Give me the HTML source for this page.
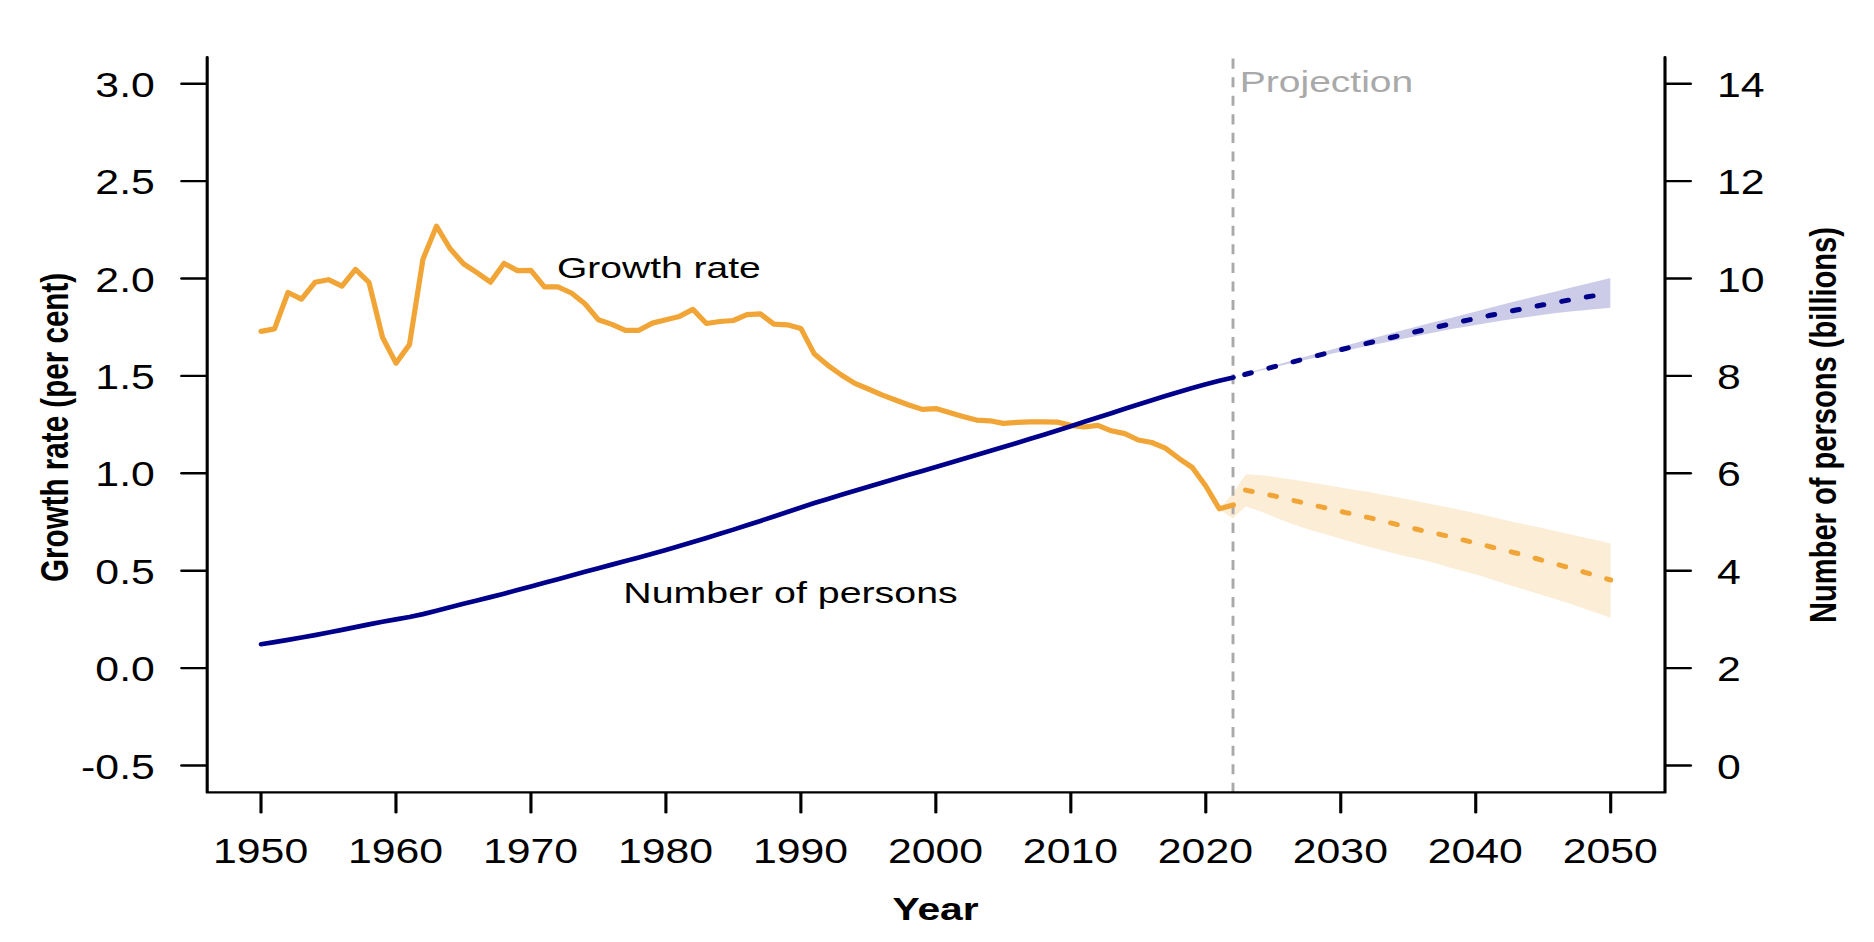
<!DOCTYPE html>
<html lang="en"><head><meta charset="utf-8"><title>World population growth rate and number of persons</title>
<style>html,body{margin:0;padding:0;background:#fff;}body{width:1874px;height:942px;overflow:hidden;}svg{display:block;}</style>
</head><body>
<svg width="1874" height="942" viewBox="0 0 1874 942">
<rect width="1874" height="942" fill="#ffffff"/>
<g fill="none">
<polygon points="1219.29,509.40 1232.78,492.90 1246.00,474.20 1263.40,475.40 1286.70,478.70 1310.10,482.30 1333.40,486.30 1356.80,490.20 1368.40,491.70 1380.10,494.20 1403.50,498.60 1426.80,503.30 1449.70,507.80 1479.40,514.00 1509.20,521.00 1518.10,523.00 1538.90,527.20 1568.60,533.90 1598.30,540.60 1610.60,543.60 1610.60,617.70 1598.30,613.40 1568.60,603.20 1538.90,594.00 1509.20,585.00 1479.40,575.60 1449.70,567.60 1434.90,563.00 1420.00,559.30 1403.50,555.70 1380.10,549.80 1356.80,543.40 1333.40,536.60 1310.10,530.00 1286.70,521.90 1263.40,512.60 1246.00,506.40 1232.78,518.40" fill="#F1A536" fill-opacity="0.2"/>
<polygon points="1232.78,377.12 1246.28,373.44 1259.78,369.56 1273.28,365.74 1286.77,361.95 1300.27,358.11 1313.77,354.33 1327.26,350.65 1340.76,346.95 1354.26,343.28 1367.75,339.60 1381.25,335.90 1394.75,332.33 1408.24,328.72 1421.74,325.25 1435.24,321.82 1448.74,318.44 1462.23,314.94 1475.73,311.45 1489.23,307.95 1502.72,304.56 1516.22,301.12 1529.72,297.72 1543.21,294.41 1556.71,291.15 1570.21,287.74 1583.71,284.44 1597.20,281.18 1610.30,278.07 1610.30,307.87 1597.20,309.01 1583.71,310.29 1570.21,311.62 1556.71,313.04 1543.21,314.81 1529.72,316.64 1516.22,318.56 1502.72,320.55 1489.23,322.68 1475.73,324.91 1462.23,327.14 1448.74,329.56 1435.24,332.21 1421.74,334.90 1408.24,337.64 1394.75,340.45 1381.25,343.19 1367.75,346.00 1354.26,348.83 1340.76,351.77 1327.26,354.78 1313.77,357.90 1300.27,361.03 1286.77,364.18 1273.28,367.40 1259.78,370.67 1246.28,373.99 1232.78,377.12" fill="#00008B" fill-opacity="0.2"/>
<line x1="1233.0" y1="792.9" x2="1233.0" y2="56.30" stroke="#A9A9A9" stroke-width="2.9" stroke-dasharray="10.1 8.47"/>
<polyline points="261.00,331.40 274.50,328.90 287.99,292.50 301.49,299.20 314.99,282.30 328.49,279.70 341.98,286.20 355.48,269.40 368.98,282.30 382.47,337.20 395.97,363.10 409.47,344.60 422.96,259.20 436.46,226.20 449.96,248.50 463.45,263.80 476.95,272.60 490.45,282.20 503.95,263.40 517.44,270.60 530.94,270.40 544.44,286.90 557.93,286.90 571.43,293.00 584.93,303.70 598.42,319.70 611.92,324.40 625.42,330.30 638.92,330.30 652.41,323.10 665.91,319.80 679.41,316.40 692.90,309.40 706.40,323.50 719.90,321.50 733.39,320.50 746.89,314.60 760.39,313.90 773.89,324.10 787.38,324.80 800.88,328.40 814.38,354.10 827.87,365.30 841.37,375.00 854.87,383.40 868.37,389.00 881.86,394.90 895.36,400.00 908.86,405.00 922.35,409.40 935.85,408.60 949.35,412.40 962.84,416.50 976.34,420.10 989.84,420.80 1003.34,423.40 1016.83,422.40 1030.33,421.90 1043.83,421.90 1057.32,422.10 1070.82,425.30 1084.32,427.00 1097.81,425.30 1111.31,430.80 1124.81,433.60 1138.30,440.00 1151.80,442.50 1165.30,448.10 1178.80,458.30 1192.29,467.50 1205.79,486.00 1219.29,508.80 1233.38,504.90" stroke="#F1A536" stroke-width="5.2" stroke-linejoin="round" stroke-linecap="round"/>
<polyline points="1245.48,490.10 1274.00,495.90 1297.50,501.40 1321.20,506.90 1345.70,512.60 1370.00,517.90 1394.50,523.90 1418.90,529.80 1443.30,535.10 1467.80,541.10 1492.20,547.20 1516.60,553.20 1540.00,559.60 1563.30,566.10 1586.70,572.90 1610.70,580.00" stroke="#F1A536" stroke-width="5.0" stroke-linecap="round" stroke-dasharray="6.9 17.897"/>
<polyline points="261.00,644.20 274.50,642.11 287.99,639.88 301.49,637.50 314.99,635.07 328.49,632.45 341.98,629.83 355.48,627.16 368.98,624.34 382.47,621.71 395.97,619.32 409.47,616.94 422.96,614.11 436.46,610.75 449.96,607.25 463.45,603.84 476.95,600.48 490.45,597.12 503.95,593.66 517.44,590.06 530.94,586.40 544.44,582.75 557.93,579.15 571.43,575.45 584.93,571.79 598.42,568.19 611.92,564.63 625.42,561.08 638.92,557.48 652.41,553.77 665.91,549.93 679.41,546.03 692.90,541.99 706.40,537.90 719.90,533.81 733.39,529.62 746.89,525.28 760.39,520.90 773.89,516.42 787.38,511.99 800.88,507.46 814.38,503.08 827.87,498.89 841.37,494.75 854.87,490.71 868.37,486.67 881.86,482.67 895.36,478.73 908.86,474.78 922.35,470.89 935.85,466.94 949.35,462.95 962.84,458.96 976.34,455.01 989.84,451.02 1003.34,446.98 1016.83,442.93 1030.33,438.84 1043.83,434.65 1057.32,430.42 1070.82,426.18 1084.32,421.86 1097.81,417.54 1111.31,413.17 1124.81,408.81 1138.30,404.54 1151.80,400.27 1165.30,396.05 1178.80,391.92 1192.29,387.94 1205.79,384.21 1219.29,380.82 1233.38,377.42" stroke="#00008B" stroke-width="4.7" stroke-linejoin="round" stroke-linecap="round"/>
<polyline points="1244.68,374.51 1259.78,370.50 1273.28,366.95 1286.77,363.44 1300.27,359.94 1313.77,356.48 1327.26,353.07 1340.76,349.71 1354.26,346.40 1367.75,343.14 1381.25,339.87 1394.75,336.71 1408.24,333.49 1421.74,330.38 1435.24,327.31 1448.74,324.29 1462.23,321.32 1475.73,318.44 1489.23,315.57 1502.72,312.80 1516.22,310.07 1529.72,307.39 1543.21,304.81 1556.71,302.28 1570.21,299.84 1583.71,297.50 1597.20,295.21 1610.70,293.07" stroke="#00008B" stroke-width="5.0" stroke-linecap="round" stroke-dasharray="6.9 18.129"/>
</g>
<g transform="scale(1.3 1)" font-family="'Liberation Sans', Arial, Helvetica, sans-serif">
<g stroke="#000" stroke-width="2.4" fill="none" stroke-linecap="round">
<polyline points="159.38,57.3 159.38,792.4 1280.77,792.4 1280.77,57.3" stroke-linejoin="round"/>
<line x1="139.77" y1="765.50" x2="158.46" y2="765.50"/>
<line x1="1281.69" y1="765.50" x2="1300.38" y2="765.50"/>
<line x1="139.77" y1="668.10" x2="158.46" y2="668.10"/>
<line x1="1281.69" y1="668.10" x2="1300.38" y2="668.10"/>
<line x1="139.77" y1="570.70" x2="158.46" y2="570.70"/>
<line x1="1281.69" y1="570.70" x2="1300.38" y2="570.70"/>
<line x1="139.77" y1="473.30" x2="158.46" y2="473.30"/>
<line x1="1281.69" y1="473.30" x2="1300.38" y2="473.30"/>
<line x1="139.77" y1="375.90" x2="158.46" y2="375.90"/>
<line x1="1281.69" y1="375.90" x2="1300.38" y2="375.90"/>
<line x1="139.77" y1="278.50" x2="158.46" y2="278.50"/>
<line x1="1281.69" y1="278.50" x2="1300.38" y2="278.50"/>
<line x1="139.77" y1="181.10" x2="158.46" y2="181.10"/>
<line x1="1281.69" y1="181.10" x2="1300.38" y2="181.10"/>
<line x1="139.77" y1="83.70" x2="158.46" y2="83.70"/>
<line x1="1281.69" y1="83.70" x2="1300.38" y2="83.70"/>
<line x1="200.77" y1="793.3" x2="200.77" y2="812.1999999999999"/>
<line x1="304.59" y1="793.3" x2="304.59" y2="812.1999999999999"/>
<line x1="408.42" y1="793.3" x2="408.42" y2="812.1999999999999"/>
<line x1="512.24" y1="793.3" x2="512.24" y2="812.1999999999999"/>
<line x1="616.06" y1="793.3" x2="616.06" y2="812.1999999999999"/>
<line x1="719.88" y1="793.3" x2="719.88" y2="812.1999999999999"/>
<line x1="823.71" y1="793.3" x2="823.71" y2="812.1999999999999"/>
<line x1="927.53" y1="793.3" x2="927.53" y2="812.1999999999999"/>
<line x1="1031.35" y1="793.3" x2="1031.35" y2="812.1999999999999"/>
<line x1="1135.18" y1="793.3" x2="1135.18" y2="812.1999999999999"/>
<line x1="1239.00" y1="793.3" x2="1239.00" y2="812.1999999999999"/>
</g>
<g font-size="32.9" fill="#000">
<text transform="translate(119.08 778.50) scale(1 1.045)" text-anchor="end">-0.5</text>
<text transform="translate(1320.77 778.50) scale(1 1.045)" text-anchor="start">0</text>
<text transform="translate(119.08 681.10) scale(1 1.045)" text-anchor="end">0.0</text>
<text transform="translate(1320.77 681.10) scale(1 1.045)" text-anchor="start">2</text>
<text transform="translate(119.08 583.70) scale(1 1.045)" text-anchor="end">0.5</text>
<text transform="translate(1320.77 583.70) scale(1 1.045)" text-anchor="start">4</text>
<text transform="translate(119.08 486.30) scale(1 1.045)" text-anchor="end">1.0</text>
<text transform="translate(1320.77 486.30) scale(1 1.045)" text-anchor="start">6</text>
<text transform="translate(119.08 388.90) scale(1 1.045)" text-anchor="end">1.5</text>
<text transform="translate(1320.77 388.90) scale(1 1.045)" text-anchor="start">8</text>
<text transform="translate(119.08 291.50) scale(1 1.045)" text-anchor="end">2.0</text>
<text transform="translate(1320.77 291.50) scale(1 1.045)" text-anchor="start">10</text>
<text transform="translate(119.08 194.10) scale(1 1.045)" text-anchor="end">2.5</text>
<text transform="translate(1320.77 194.10) scale(1 1.045)" text-anchor="start">12</text>
<text transform="translate(119.08 96.70) scale(1 1.045)" text-anchor="end">3.0</text>
<text transform="translate(1320.77 96.70) scale(1 1.045)" text-anchor="start">14</text>
<text transform="translate(200.46 863.30) scale(1 1.045)" text-anchor="middle">1950</text>
<text transform="translate(304.28 863.30) scale(1 1.045)" text-anchor="middle">1960</text>
<text transform="translate(408.11 863.30) scale(1 1.045)" text-anchor="middle">1970</text>
<text transform="translate(511.93 863.30) scale(1 1.045)" text-anchor="middle">1980</text>
<text transform="translate(615.75 863.30) scale(1 1.045)" text-anchor="middle">1990</text>
<text transform="translate(719.58 863.30) scale(1 1.045)" text-anchor="middle">2000</text>
<text transform="translate(823.40 863.30) scale(1 1.045)" text-anchor="middle">2010</text>
<text transform="translate(927.22 863.30) scale(1 1.045)" text-anchor="middle">2020</text>
<text transform="translate(1031.05 863.30) scale(1 1.045)" text-anchor="middle">2030</text>
<text transform="translate(1134.87 863.30) scale(1 1.045)" text-anchor="middle">2040</text>
<text transform="translate(1238.69 863.30) scale(1 1.045)" text-anchor="middle">2050</text>
</g>
<g font-size="30" fill="#000">
<text x="428.46" y="277.8">Growth rate</text>
<text x="479.46" y="603.2" font-size="30.25">Number of persons</text>
<text x="953.69" y="91.8" fill="#A9A9A9">Projection</text>
<text x="719.69" y="920.5" text-anchor="middle" font-weight="bold" font-size="31.4">Year</text>
<text transform="translate(52.15 427.4) rotate(-90)" text-anchor="middle" font-weight="bold" font-size="29.6">Growth rate (per cent)</text>
<text transform="translate(1412.15 425.0) rotate(-90)" text-anchor="middle" font-weight="bold" font-size="29.1">Number of persons (billions)</text>
</g>
</g></svg>
</body></html>
